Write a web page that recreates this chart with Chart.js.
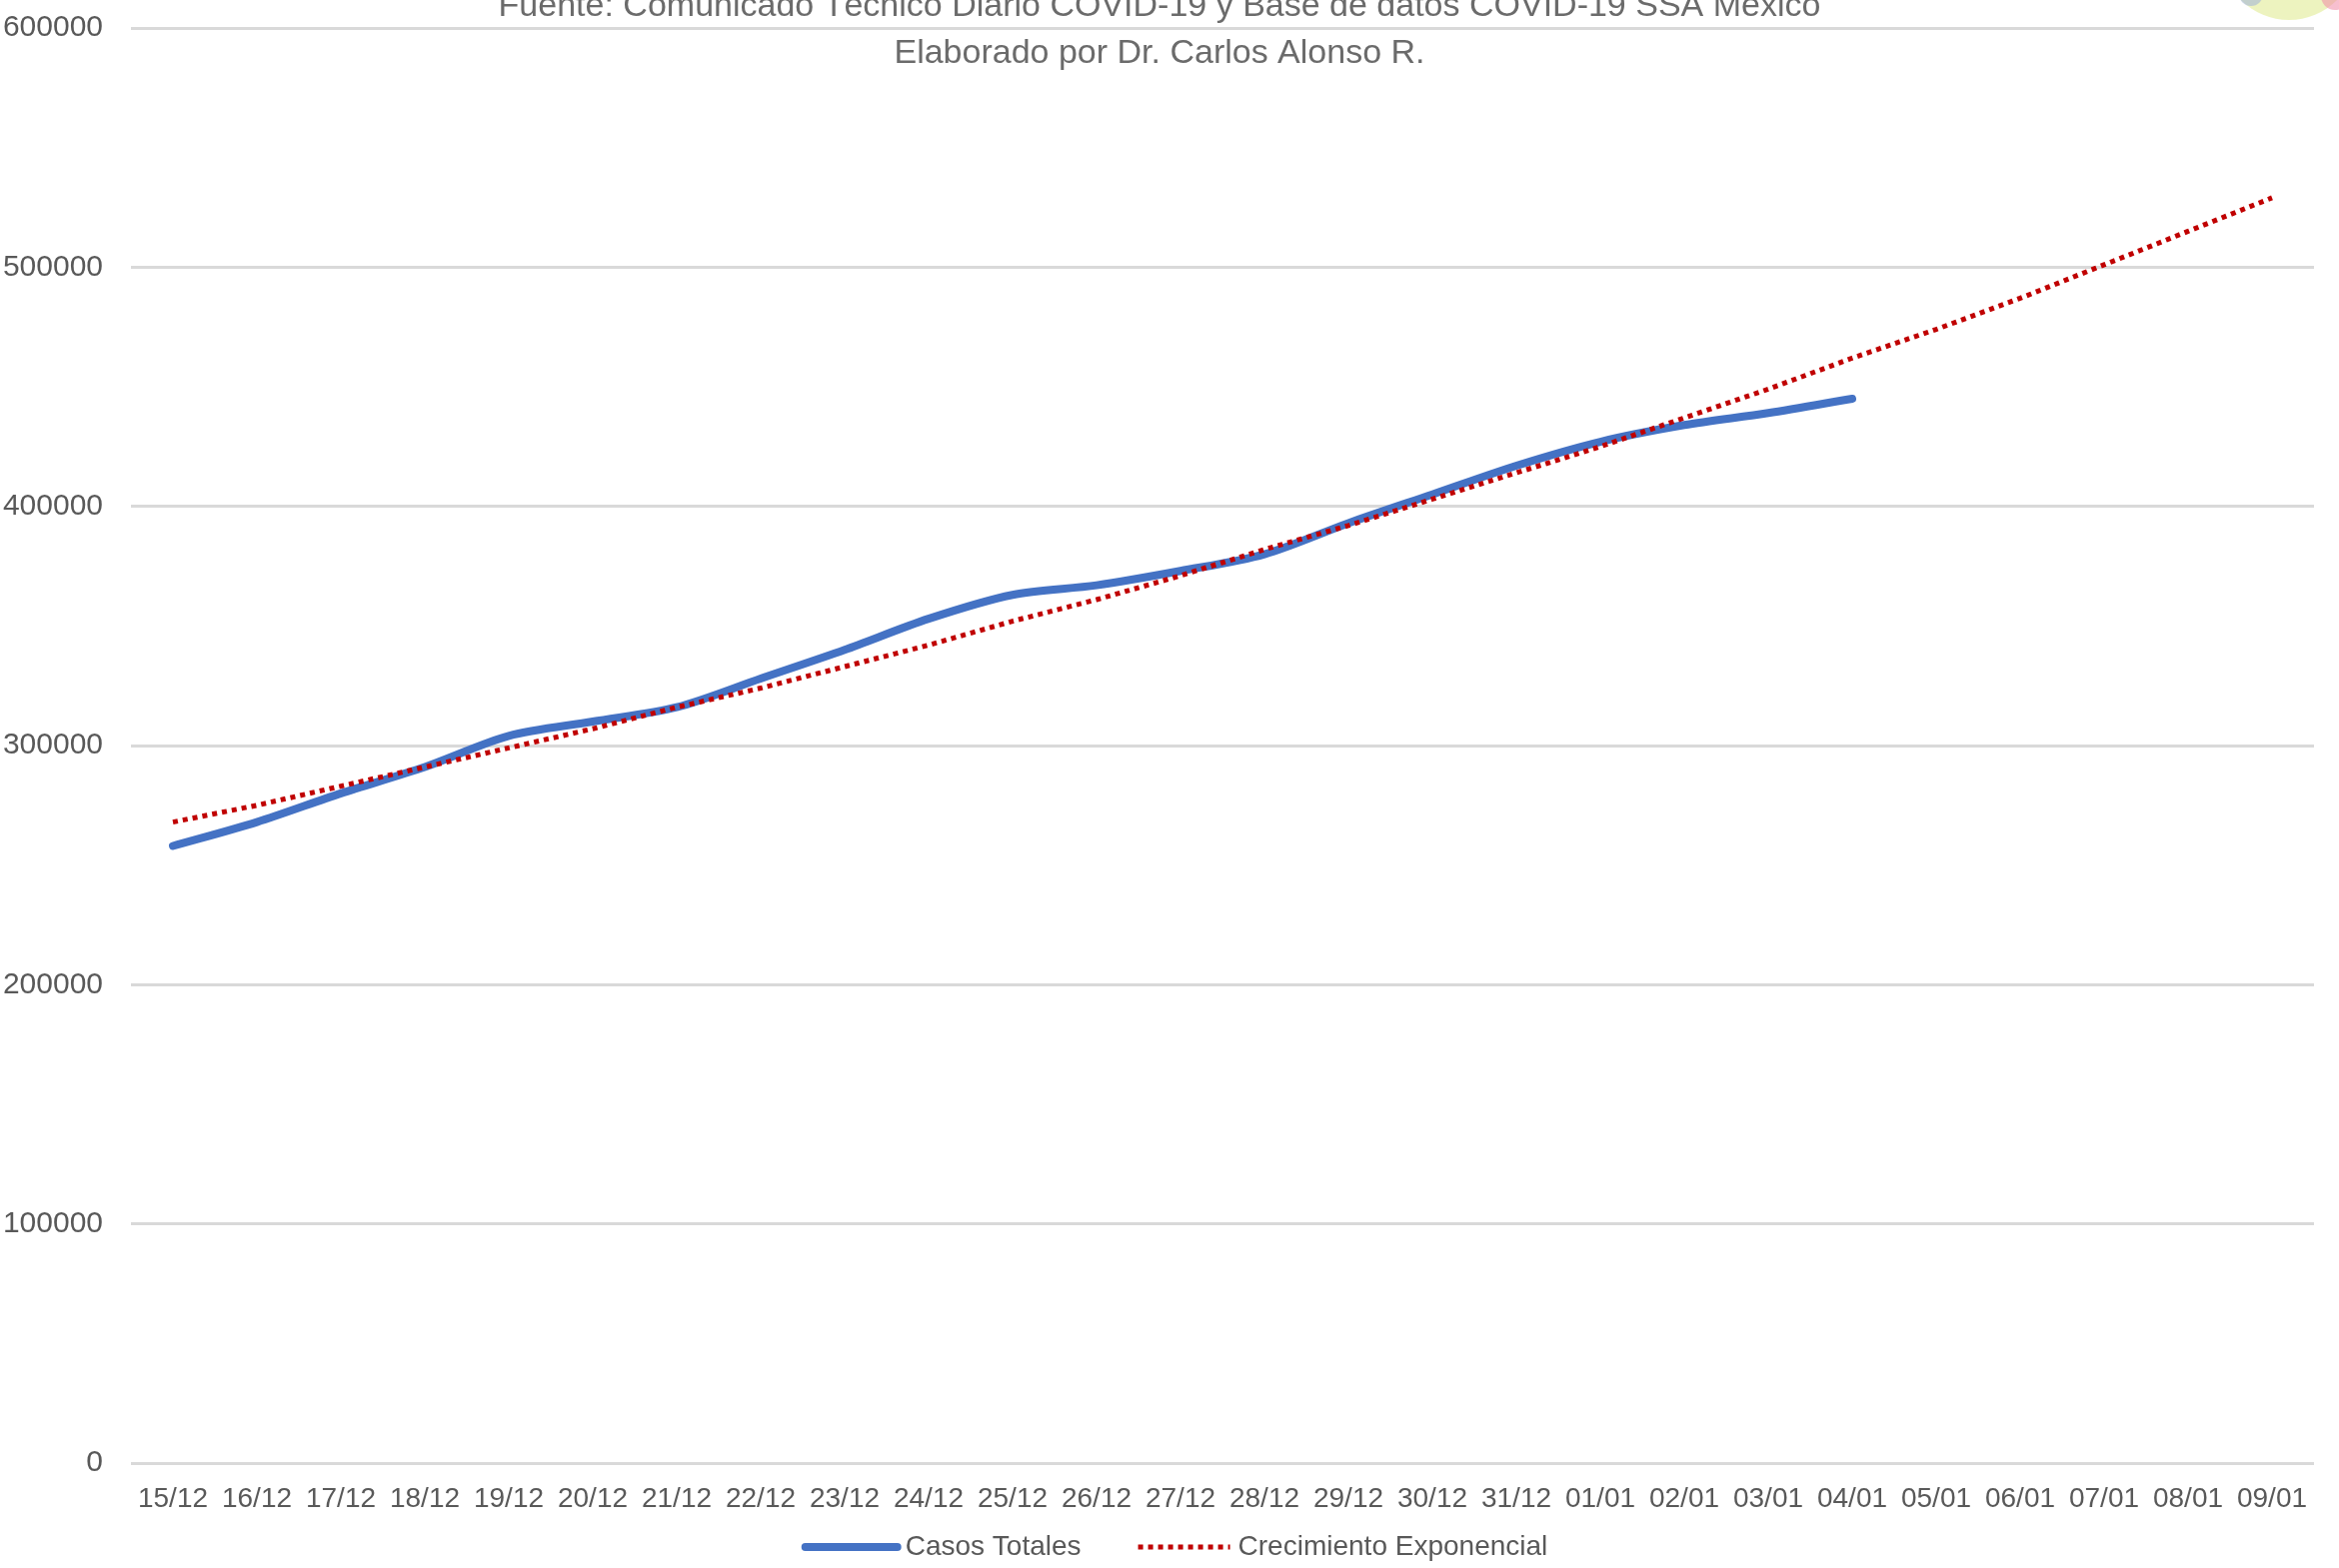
<!DOCTYPE html>
<html lang="es">
<head>
<meta charset="UTF-8">
<title>Casos Totales COVID-19</title>
<script src="https://cdn.jsdelivr.net/npm/chart.js@4.4.1/dist/chart.umd.min.js"></script>
<style>
    body { margin: 0; background: #fff; }
    canvas { display: block; }
</style>
</head>
<body>
<canvas id="grafica" width="2340" height="1569"></canvas>
<script>
// fechas del eje X
const fechas = ['15/12', '16/12', '17/12', '18/12', '19/12', '20/12', '21/12', '22/12', '23/12',
    '24/12', '25/12', '26/12', '27/12', '28/12', '29/12', '30/12', '31/12', '01/01', '02/01',
    '03/01', '04/01', '05/01', '06/01', '07/01', '08/01', '09/01'];

// casos totales
const casosTotales = [258000, 268000, 280000, 291000, 304000, 310000, 316000, 328000, 340000,
    353000, 363000, 367000, 373000, 380000, 393000, 405000, 417000, 427000, 434000,
    439000, 445000, null, null, null, null, null];

// linea de tendencia
const crecimientoExp = [268000, 275000, 283000, 291000, 299000, 307000, 316000, 324000, 333000,
    342000, 352000, 361000, 371000, 382000, 392000, 403000, 414000, 425000, 437000,
    449000, 462000, 474000, 487000, 501000, 515000, 529000];

const titulo = [
    'Fuente: Comunicado Técnico Diario COVID-19 y Base de datos COVID-19 SSA México',
    'Elaborado por Dr. Carlos Alonso R.'
];

const FUENTE = '"Liberation Sans", Arial, sans-serif';
const GRIS = '#595959';

// titulo y logo (el titulo queda encima del area de la grafica)
const tituloPlugin = {
    id: 'tituloTexto',
    afterDraw(chart) {
        const ctx = chart.ctx;
        ctx.save();
        // logo recortado arriba a la derecha
        ctx.globalAlpha = 0.55;
        ctx.fillStyle = '#dfe98a';
        ctx.beginPath(); ctx.arc(2290, -48, 68, 0, Math.PI * 2); ctx.fill();
        ctx.fillStyle = '#9fb0d8';
        ctx.beginPath(); ctx.arc(2252, -6, 12, 0, Math.PI * 2); ctx.fill();
        ctx.fillStyle = '#f08aa8';
        ctx.beginPath(); ctx.arc(2336, -4, 14, 0, Math.PI * 2); ctx.fill();
        ctx.globalAlpha = 1;

        ctx.fillStyle = '#6b6b6b';
        ctx.font = '34px ' + FUENTE;
        ctx.textAlign = 'center';
        ctx.textBaseline = 'middle';
        ctx.fillText(titulo[0], 1160, 7);
        ctx.fillText(titulo[1], 1160, 54);
        ctx.restore();
    }
};

// leyenda dibujada a mano para controlar el espaciado
const leyendaPlugin = {
    id: 'leyenda',
    afterDraw(chart) {
        const ctx = chart.ctx;
        const y = 1548;
        const largo = 92;
        ctx.save();
        ctx.font = '28px ' + FUENTE;
        ctx.textBaseline = 'middle';
        const items = chart.data.datasets;
        let total = 0;
        items.forEach((ds, i) => {
            total += largo + 8 + ctx.measureText(ds.label).width;
            if (i < items.length - 1) total += 57;
        });
        let x = 1177 - total / 2;
        items.forEach(ds => {
            ctx.strokeStyle = ds.borderColor;
            ctx.lineWidth = ds.borderWidth;
            ctx.lineCap = ds.borderDash ? 'butt' : 'round';
            ctx.setLineDash(ds.borderDash || []);
            ctx.beginPath();
            ctx.moveTo(x, y);
            ctx.lineTo(x + largo, y);
            ctx.stroke();
            ctx.setLineDash([]);
            x += largo + 8;
            ctx.fillStyle = GRIS;
            ctx.textAlign = 'left';
            ctx.fillText(ds.label, x, y);
            x += ctx.measureText(ds.label).width + 57;
        });
        ctx.restore();
    }
};

const ctx = document.getElementById('grafica').getContext('2d');
new Chart(ctx, {
    type: 'line',
    data: {
        labels: fechas,
        datasets: [
            {
                label: 'Casos Totales',
                data: casosTotales,
                borderColor: '#4472C4',
                borderWidth: 8,
                borderCapStyle: 'round',
                pointRadius: 0,
                tension: 0.3,
                fill: false,
                order: 1
            },
            {
                label: 'Crecimiento Exponencial',
                data: crecimientoExp,
                borderColor: '#C00000',
                borderWidth: 5,
                borderDash: [5, 5],
                pointRadius: 0,
                tension: 0,
                fill: false,
                order: 0
            }
        ]
    },
    options: {
        responsive: false,
        animation: false,
        layout: { padding: { top: 28, right: 25, bottom: 44, left: 0 } },
        plugins: {
            legend: { display: false },
            title: { display: false },
            tooltip: { enabled: false }
        },
        scales: {
            x: {
                offset: true,
                grid: { display: false },
                border: { display: false },
                ticks: {
                    color: GRIS,
                    font: { family: FUENTE, size: 28 },
                    padding: 11,
                    maxRotation: 0,
                    autoSkip: false
                },
                afterFit: s => { s.height = 61; }
            },
            y: {
                min: 0,
                max: 600000,
                grid: { color: '#D9D9D9', lineWidth: 3, drawTicks: false },
                border: { display: false },
                ticks: {
                    stepSize: 100000,
                    color: GRIS,
                    font: { family: FUENTE, size: 30 },
                    padding: 28,
                    callback: v => String(v)
                },
                afterFit: s => {
                    s.width = 131;
                    // sin relleno extra arriba/abajo, el area la fija layout.padding
                    s.paddingTop = 0;
                    s.paddingBottom = 0;
                }
            }
        }
    },
    plugins: [tituloPlugin, leyendaPlugin]
});
</script>
</body>
</html>
